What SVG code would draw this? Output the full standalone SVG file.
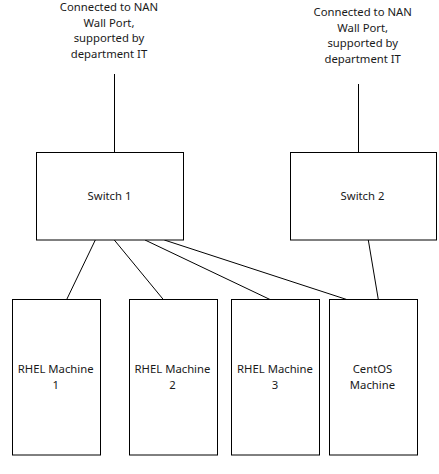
<svg xmlns="http://www.w3.org/2000/svg" width="439" height="474" viewBox="0 0 439 474">
<style>
.box{fill:#fff;stroke:#000;stroke-width:1}
.ln{stroke:#000;stroke-width:1;fill:none}
text{font-family:"Noto Sans","Open Sans",sans-serif;font-size:11.3px;fill:#1a1a1a;text-anchor:middle}
</style>
<rect width="439" height="474" fill="#fff"/>
<g id="label-left">
<text x="109" y="11">Connected to NAN</text>
<text x="109" y="27">Wall Port,</text>
<text x="109" y="42">supported by</text>
<text x="109" y="57.5">department IT</text>
</g>
<g id="label-right">
<text x="362.7" y="16">Connected to NAN</text>
<text x="362.7" y="32">Wall Port,</text>
<text x="362.7" y="47">supported by</text>
<text x="362.7" y="63">department IT</text>
</g>
<g id="connectors">
<line class="ln" x1="114.5" y1="74" x2="114.5" y2="152.5"/>
<line class="ln" x1="358.5" y1="84" x2="358.5" y2="152.5"/>
<line class="ln" x1="95.3" y1="240" x2="66.7" y2="299.5"/>
<line class="ln" x1="114.3" y1="240" x2="163.3" y2="299.5"/>
<line class="ln" x1="145" y1="240" x2="270" y2="299.5"/>
<line class="ln" x1="164.3" y1="240" x2="346.7" y2="299.5"/>
<line class="ln" x1="368.3" y1="240" x2="378.3" y2="299.5"/>
</g>
<g id="switch1">
<rect class="box" x="36.5" y="152.5" width="147" height="87.5"/>
<text x="109.5" y="200">Switch 1</text>
</g>
<g id="switch2">
<rect class="box" x="290.5" y="152.5" width="146" height="87.5"/>
<text x="362.5" y="200">Switch 2</text>
</g>
<g id="rhel1">
<rect class="box" x="12.5" y="299.5" width="88" height="155.5"/>
<text x="55.7" y="373">RHEL Machine</text>
<text x="55.7" y="388.5">1</text>
</g>
<g id="rhel2">
<rect class="box" x="129.5" y="299.5" width="88" height="155.5"/>
<text x="172.5" y="373">RHEL Machine</text>
<text x="172.5" y="388.5">2</text>
</g>
<g id="rhel3">
<rect class="box" x="231.5" y="299.5" width="88" height="155.5"/>
<text x="275" y="373">RHEL Machine</text>
<text x="275" y="388.5">3</text>
</g>
<g id="centos">
<rect class="box" x="329.5" y="299.5" width="88" height="155.5"/>
<text x="372.5" y="373">CentOS</text>
<text x="372.5" y="388.5">Machine</text>
</g>
</svg>
